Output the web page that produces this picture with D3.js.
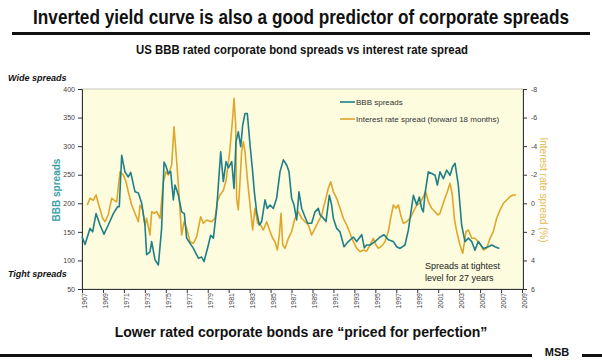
<!DOCTYPE html>
<html><head><meta charset="utf-8">
<script src="https://cdn.jsdelivr.net/npm/d3@7"></script>
<style>
html,body{margin:0;padding:0;background:#fff;}
svg{display:block;}
</style></head>
<body>
<svg id="chart" width="602" height="360"></svg>
<script>
// ---- data ----
const bbbYears = [1967.0,1967.29,1967.76,1968.02,1968.34,1968.72,1969.10,1969.51,1969.99,1970.40,1970.56,1970.79,1971.10,1971.42,1971.65,1972.06,1972.38,1972.70,1973.01,1973.17,1973.49,1973.65,1973.97,1974.29,1974.60,1974.83,1975.02,1975.24,1975.46,1975.72,1975.88,1976.20,1976.51,1976.77,1976.99,1977.63,1978.11,1978.42,1978.65,1979.06,1979.28,1979.54,1979.86,1980.01,1980.24,1980.49,1980.75,1980.97,1981.29,1981.51,1981.70,1981.92,1982.15,1982.34,1982.56,1982.78,1983.04,1983.26,1983.45,1983.67,1983.93,1984.15,1984.47,1984.69,1984.95,1985.26,1985.58,1985.90,1986.22,1986.54,1986.76,1987.01,1987.24,1987.49,1987.71,1987.97,1988.29,1988.54,1988.92,1989.24,1989.56,1989.72,1990.04,1990.29,1990.61,1990.83,1990.99,1991.31,1991.63,1992.01,1992.42,1992.90,1993.22,1993.70,1993.95,1994.17,1994.49,1994.97,1995.45,1995.83,1996.24,1996.72,1997.04,1997.36,1997.83,1998.15,1998.63,1998.95,1999.20,1999.42,1999.58,1999.74,2000.06,2000.38,2000.70,2000.92,2001.17,2001.49,2001.81,2002.13,2002.38,2002.61,2002.92,2003.24,2003.56,2003.88,2004.20,2004.51,2004.83,2005.31,2005.79,2006.11,2006.42,2006.84];
const bbbSpreads = [142,128,156,150,182,162,146,162,182,194,194,284,255,246,254,220,218,200,162,110,115,133,101,92,156,272,265,252,256,206,232,214,185,182,139,121,104,106,98,127,144,139,191,230,290,238,273,262,273,226,308,325,299,337,357,357,302,261,220,185,162,168,206,191,197,191,209,255,276,267,255,209,197,171,220,191,176,165,165,185,191,180,174,168,214,197,174,156,150,124,133,141,133,145,122,127,127,133,141,145,136,133,124,121,127,153,214,197,211,191,185,217,255,252,249,232,255,243,258,249,264,270,232,162,133,139,133,118,133,121,124,127,124,121];

const rateYears = [1967.51,1967.76,1968.08,1968.34,1968.65,1968.97,1969.20,1969.51,1969.83,1970.09,1970.31,1970.63,1970.95,1971.20,1971.42,1971.74,1972.06,1972.38,1972.54,1972.79,1973.01,1973.17,1973.49,1973.65,1973.87,1974.13,1974.45,1974.76,1975.02,1975.24,1975.56,1975.78,1975.97,1976.20,1976.51,1976.74,1976.99,1977.31,1977.63,1977.95,1978.33,1978.58,1978.90,1979.38,1979.70,1979.92,1980.17,1980.49,1980.75,1981.10,1981.38,1981.51,1981.67,1981.76,1981.92,1982.08,1982.24,1982.40,1982.56,1982.78,1983.04,1983.29,1983.51,1983.77,1984.05,1984.31,1984.63,1984.95,1985.20,1985.42,1985.65,1985.84,1986.00,1986.16,1986.38,1986.70,1987.01,1987.33,1987.65,1987.97,1988.29,1988.61,1988.92,1989.24,1989.56,1989.88,1990.20,1990.51,1990.74,1990.99,1991.31,1991.63,1991.95,1992.27,1992.58,1992.90,1993.22,1993.54,1993.86,1994.17,1994.49,1994.81,1995.06,1995.29,1995.61,1995.92,1996.24,1996.46,1996.72,1996.97,1997.20,1997.42,1997.67,1997.99,1998.31,1998.63,1998.95,1999.26,1999.58,1999.81,2000.06,2000.38,2000.70,2000.95,2001.17,2001.43,2001.65,2001.87,2002.13,2002.35,2002.54,2002.77,2003.08,2003.34,2003.66,2003.88,2004.20,2004.51,2004.83,2005.06,2005.31,2005.63,2005.95,2006.26,2006.58,2006.90,2007.22,2007.54,2007.86,2008.17,2008.43];
const rateSpread = [0.12,-0.35,-0.2,-0.58,0.24,1.05,1.29,0.8,-0.35,-0.2,-0.1,-2.21,-1.98,-1.51,-0.81,0.12,0.7,1.29,0.12,0.47,1.52,1.05,2.22,0.59,0.7,0.59,1.05,-1.51,-2.21,-1.98,-2.68,-5.36,-3.61,-1.28,2.22,1.29,1.75,2.69,2.8,2.34,0.94,1.4,1.17,1.29,1.05,-0.12,-0.58,-0.9,-1.6,-3.6,-5.95,-7.35,-5.48,-0.35,0.47,-1.51,-3.61,-4.31,-3.61,-1.75,0.12,1.87,0.35,1.4,1.52,1.87,1.29,1.98,2.45,2.69,3.27,2.22,0.7,2.92,3.15,2.45,1.98,1.05,0.59,1.05,1.29,1.52,2.22,1.75,1.29,0.82,-0.12,-1.05,-1.51,-0.81,-0.35,0.35,1.05,1.52,2.1,2.69,3.15,3.39,3.27,3.35,2.92,2.45,2.92,3.15,3.0,2.69,1.98,1.05,0.12,0.35,0.12,0.82,1.4,1.29,1.05,0.59,0.12,0.0,-0.47,-0.81,-0.12,0.35,0.59,0.82,0.7,0.12,-0.35,-0.81,-1.4,-0.58,1.05,1.98,2.92,3.5,1.98,1.87,2.45,2.45,2.69,2.92,3.27,3.15,2.45,1.98,1.05,0.47,0.0,-0.23,-0.47,-0.58,-0.58];

const xTickYears = d3.range(1967, 2010, 2);
const leftTicks = [50,100,150,200,250,300,350,400];
const rightTicks = [-8,-6,-4,-2,0,2,4,6];
const seriesNames = ["BBB spreads", "Interest rate spread (forward 18 months)"];

// ---- colours ----
const tealCol = "#1f7f86";
const goldCol = "#dfa62a";

const svg = d3.select("#chart");
const m = {l:82, r:523, t:89, b:289};
const font = "'Liberation Sans',Arial,sans-serif";

// condensed-looking text: draw then squeeze horizontally to a target width
function condensed(txt, cx, y, size, weight, targetW){
  const g = svg.append("g");
  const t = g.append("text").attr("x",0).attr("y",0).attr("text-anchor","middle")
    .attr("font-family",font).attr("font-size",size).attr("font-weight",weight).attr("fill","#111")
    .text(txt);
  const w = t.node().getComputedTextLength();
  const s = Math.min(1, targetW / w);
  g.attr("transform",`translate(${cx},${y}) scale(${s},1)`);
}
condensed("Inverted yield curve is also a good predictor of corporate spreads", 301, 24, 21, "bold", 536);
svg.append("rect").attr("x",12).attr("y",32).attr("width",578).attr("height",3).attr("fill","#111");
condensed("US BBB rated corporate bond spreads vs interest rate spread", 302, 54, 13.5, "bold", 332);

// plot background
svg.append("rect").attr("x",m.l).attr("y",m.t).attr("width",m.r-m.l).attr("height",m.b-m.t)
  .attr("fill","#fdfcdf").attr("stroke","#c8c8c0").attr("stroke-width",1);

const x = d3.scaleLinear().domain([1967,2009]).range([m.l, m.r-1]);
const yL = d3.scaleLinear().domain([50,400]).range([m.b, m.t]);
const yR = d3.scaleLinear().domain([6,-8]).range([m.b, m.t]);

// axes
const gL = svg.append("g").attr("transform",`translate(${m.l},0)`)
  .call(d3.axisLeft(yL).tickValues(leftTicks).tickSize(4).tickPadding(3));
const gR = svg.append("g").attr("transform",`translate(${m.r},0)`)
  .call(d3.axisRight(yR).tickValues(rightTicks).tickSize(4).tickPadding(4).tickFormat(d=>d));
const gX = svg.append("g").attr("transform",`translate(0,${m.b})`)
  .call(d3.axisBottom(x).tickValues(xTickYears).tickSize(4).tickFormat(d3.format("d")));
[gL,gR,gX].forEach(g=>{
  g.select(".domain").attr("stroke","#333");
  g.selectAll(".tick line").attr("stroke","#333");
  g.selectAll("text").attr("font-family",font).attr("font-size",7).attr("fill","#444");
});
gX.selectAll(".tick text").attr("text-anchor","end")
  .attr("x",-4).attr("y",0).attr("dy","0.35em")
  .attr("transform","translate(2,0) rotate(-90)");

// lines
const pairsB = bbbYears.map((d,i)=>[d,bbbSpreads[i]]);
const pairsR = rateYears.map((d,i)=>[d,rateSpread[i]]);
svg.append("path").datum(pairsR).attr("fill","none").attr("stroke",goldCol).attr("stroke-width",1.6)
  .attr("stroke-linejoin","round")
  .attr("d",d3.line().x(d=>x(d[0])).y(d=>yR(d[1])));
svg.append("path").datum(pairsB).attr("fill","none").attr("stroke",tealCol).attr("stroke-width",1.6)
  .attr("stroke-linejoin","round")
  .attr("d",d3.line().x(d=>x(d[0])).y(d=>yL(d[1])));

// axis titles
svg.append("text").attr("transform","translate(60,190) rotate(-90)").attr("text-anchor","middle")
  .attr("font-family",font).attr("font-size",10).attr("font-weight","bold").attr("fill","#3a9fa6")
  .text("BBB spreads");
svg.append("text").attr("transform","translate(540,190) rotate(90)").attr("text-anchor","middle")
  .attr("font-family",font).attr("font-size",10).attr("fill","#e3bb4a")
  .text("Interest rate spread (%)");

// side notes
svg.append("text").attr("x",8).attr("y",81).attr("font-family",font).attr("font-size",9)
  .attr("font-weight","bold").attr("font-style","italic").attr("fill","#111").text("Wide spreads");
svg.append("text").attr("x",8).attr("y",277).attr("font-family",font).attr("font-size",9)
  .attr("font-weight","bold").attr("font-style","italic").attr("fill","#111").text("Tight spreads");

// legend
const leg = svg.append("g");
[tealCol, goldCol].forEach((c,i)=>{
  const yy = 102 + i*17;
  leg.append("line").attr("x1",340).attr("x2",355).attr("y1",yy).attr("y2",yy).attr("stroke",c).attr("stroke-width",1.6);
  leg.append("text").attr("x",356).attr("y",yy).attr("dy","0.35em").attr("font-family",font)
    .attr("font-size",8).attr("fill","#333").text(seriesNames[i]);
});

// annotation
const ann = svg.append("text").attr("font-family",font).attr("font-size",9).attr("fill","#222");
ann.append("tspan").attr("x",425).attr("y",269).text("Spreads at tightest");
ann.append("tspan").attr("x",425).attr("y",281).text("level for 27 years");

// bottom
svg.append("text").attr("x",301).attr("y",337).attr("text-anchor","middle")
  .attr("font-family",font).attr("font-size",14).attr("font-weight","bold").attr("fill","#111")
  .text("Lower rated corporate bonds are \u201cpriced for perfection\u201d");
svg.append("rect").attr("x",0).attr("y",354).attr("width",532).attr("height",3).attr("fill","#111");
svg.append("rect").attr("x",582).attr("y",354).attr("width",20).attr("height",3).attr("fill","#111");
svg.append("text").attr("x",557).attr("y",356).attr("text-anchor","middle")
  .attr("font-family",font).attr("font-size",11).attr("font-weight","bold").attr("fill","#111")
  .text("MSB");
</script>
</body></html>
